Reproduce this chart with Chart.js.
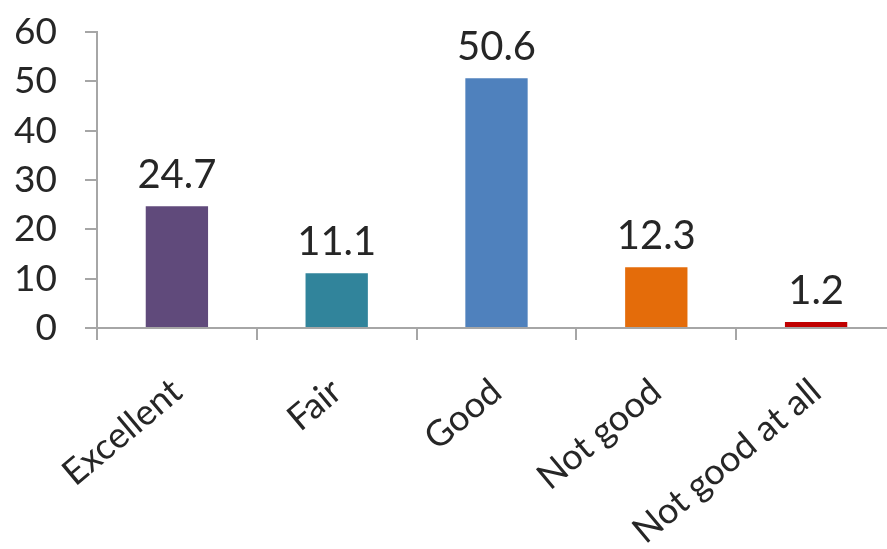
<!DOCTYPE html>
<html>
<head>
<meta charset="utf-8">
<script src="https://cdn.jsdelivr.net/npm/chart.js@4.4.1/dist/chart.umd.min.js"></script>
<style>
  html, body { margin: 0; padding: 0; background: #fff; overflow: hidden; }
  #wrap { width: 896px; height: 549px; position: relative; }
</style>
</head>
<body>
<div id="wrap"><canvas id="chart"></canvas></div>
<script>
// categories and values
const categories = ['Excellent', 'Fair', 'Good', 'Not good', 'Not good at all'];
const values = [24.7, 11.1, 50.6, 12.3, 1.2];
const barColors = ['#604a7b', '#31849b', '#4f81bd', '#e46c0a', '#c00000'];
const yTicks = [0, 10, 20, 30, 40, 50, 60];

const fontFamily = 'Lato, "Open Sans", sans-serif';

// draws the value over each bar
const valueLabels = {
	id: 'valueLabels',
	afterDatasetsDraw(chart) {
		const ctx = chart.ctx;
		const meta = chart.getDatasetMeta(0);
		ctx.save();
		ctx.font = '40px ' + fontFamily;
		ctx.fillStyle = '#262626';
		ctx.textAlign = 'center';
		ctx.textBaseline = 'alphabetic';
		meta.data.forEach(function (bar, i) {
			ctx.fillText(values[i].toFixed(1), bar.x, bar.y - 18);
		});
		ctx.restore();
	}
};

new Chart(document.getElementById('chart'), {
	type: 'bar',
	data: {
		labels: categories,
		datasets: [{
			data: values,
			backgroundColor: barColors,
			borderWidth: 0,
			barPercentage: 0.39,
			categoryPercentage: 1
		}]
	},
	options: {
		responsive: true,
		maintainAspectRatio: false,
		animation: false,
		layout: { padding: { top: 32, left: 0, right: 0, bottom: 0 } },
		plugins: {
			legend: { display: false },
			tooltip: { enabled: false }
		},
		scales: {
			x: {
				grid: {
					offset: true,
					drawOnChartArea: false,
					drawTicks: true,
					tickLength: 12,
					color: '#a6a6a6',
					lineWidth: 2
				},
				border: { color: '#a6a6a6', width: 2 },
				ticks: {
					color: '#262626',
					font: { family: fontFamily, size: 36 },
					minRotation: 40,
					maxRotation: 40,
					padding: 30
				},
				afterFit(scale) {
					scale.height = 221;
					scale.paddingLeft = 0;
					scale.paddingRight = 0;
				}
			},
			y: {
				min: 0,
				max: 60,
				afterBuildTicks(scale) {
					scale.ticks = yTicks.map(v => ({ value: v }));
				},
				grid: {
					drawOnChartArea: false,
					drawTicks: true,
					tickLength: 12,
					color: '#a6a6a6',
					lineWidth: 2
				},
				border: { color: '#a6a6a6', width: 2 },
				ticks: {
					color: '#262626',
					font: { family: fontFamily, size: 37 },
					padding: 28
				},
				afterFit(scale) {
					scale.width = 97;
					scale.paddingTop = 0;
					scale.paddingBottom = 0;
				}
			}
		}
	},
	plugins: [valueLabels]
});
</script>
</body>
</html>
